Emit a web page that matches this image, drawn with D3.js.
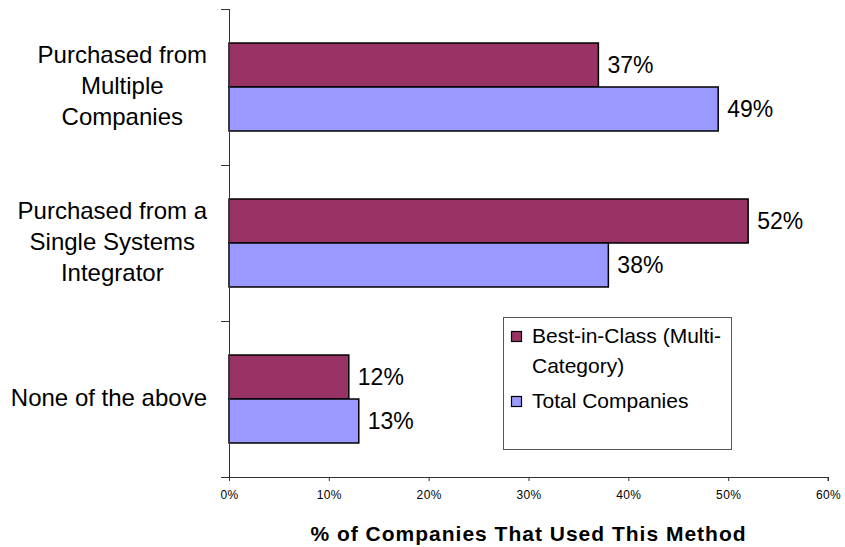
<!DOCTYPE html>
<html>
<head>
<meta charset="utf-8">
<script src="https://cdn.jsdelivr.net/npm/d3@7"></script>
<style>
  html, body { margin: 0; padding: 0; background: #fff; }
  svg { display: block; font-family: "Liberation Sans", Arial, sans-serif; }
</style>
</head>
<body>
<svg id="chart" width="845" height="547"></svg>
<script>
// Purchasing method categories, each split into its display lines
const categories = ["Multiple", "Single", "None"];
const categoryLines = [
  ["Purchased from", "Multiple", "Companies"],
  ["Purchased from a", "Single Systems", "Integrator"],
  ["None of the above"]
];
const seriesNames = ["Best-in-Class (Multi-Category)", "Total Companies"];
const legendLines = [["Best-in-Class (Multi-", "Category)"], ["Total Companies"]];
const bestInClass = [37, 52, 12];
const totalCompanies = [49, 38, 13];
const xTicks = [0, 10, 20, 30, 40, 50, 60];
const xTitle = "% of Companies That Used This Method";
const colors = ["#993366", "#9999FF"];

const svg = d3.select("#chart");
const plot = { left: 229, right: 828, top: 9, bottom: 477 };

const x = d3.scaleLinear().domain([0, 60]).range([plot.left, plot.right]);
const y = d3.scaleBand()
  .domain(categories)
  .range([plot.top, plot.bottom])
  .paddingInner(0.436)
  .paddingOuter(0.218);
const ySub = d3.scaleBand().domain([0, 1]).range([0, y.bandwidth()]);

const series = [bestInClass, totalCompanies];
const rows = [];
categories.forEach((c, i) => {
  series.forEach((s, k) => rows.push({ cat: c, k, v: s[i] }));
});

// bars
svg.append("g").selectAll("rect").data(rows).join("rect")
  .attr("x", x(0))
  .attr("y", d => y(d.cat) + ySub(d.k))
  .attr("width", d => x(d.v) - x(0))
  .attr("height", ySub.bandwidth())
  .attr("fill", d => colors[d.k])
  .attr("stroke", "#000")
  .attr("stroke-width", 1.5);

// value labels
svg.append("g").selectAll("text").data(rows).join("text")
  .attr("x", d => x(d.v) + 9)
  .attr("y", d => y(d.cat) + ySub(d.k) + ySub.bandwidth() / 2)
  .attr("dy", "0.33em")
  .attr("font-size", 23)
  .attr("fill", "#000")
  .text(d => d.v + "%");

// x axis
const xAxis = svg.append("g")
  .attr("transform", `translate(0,${plot.bottom})`)
  .call(d3.axisBottom(x).tickValues(xTicks).tickSize(4).tickPadding(9)
    .tickFormat(d => d + "%"));
xAxis.select(".domain").attr("stroke", "#333").attr("d", `M${plot.left - 8},0.5H${plot.right}V4`);
xAxis.selectAll(".tick line").attr("stroke", "#333");
xAxis.selectAll(".tick text")
  .attr("font-family", "Liberation Sans, Arial, sans-serif")
  .attr("font-size", 12).attr("letter-spacing", 0.4).attr("fill", "#000");

// y axis: line with ticks at the category boundaries
const yAxis = svg.append("g");
yAxis.append("line")
  .attr("x1", plot.left + 0.5).attr("x2", plot.left + 0.5)
  .attr("y1", plot.top).attr("y2", plot.bottom)
  .attr("stroke", "#333");
const boundaries = categories.map(c => y(c) - y.step() * y.paddingOuter()).concat([plot.bottom]);
yAxis.selectAll("line.tick").data(boundaries).join("line")
  .attr("class", "tick")
  .attr("x1", plot.left - 8).attr("x2", plot.left)
  .attr("y1", d => Math.round(d) + 0.5).attr("y2", d => Math.round(d) + 0.5)
  .attr("stroke", "#333");

// category labels: block right-aligned, lines centred within the block
const catG = svg.append("g");
categoryLines.forEach((lines, i) => {
  const cy = y(categories[i]) + y.bandwidth() / 2;
  const g = catG.append("g");
  const texts = g.selectAll("text").data(lines).join("text")
    .attr("font-size", 24)
    .attr("fill", "#000")
    .attr("text-anchor", "middle")
    .attr("y", (d, j) => cy + 7 + (j - (lines.length - 1) / 2) * 31)
    .text(d => d);
  const maxW = d3.max(texts.nodes(), n => n.getComputedTextLength());
  texts.attr("x", 207 - maxW / 2);
});

// axis title
svg.append("text")
  .attr("x", (plot.left + plot.right) / 2)
  .attr("y", 541)
  .attr("text-anchor", "middle")
  .attr("font-size", 21)
  .attr("font-weight", "bold")
  .attr("letter-spacing", 1.0)
  .attr("fill", "#000")
  .text(xTitle);

// legend
const legend = svg.append("g");
legend.append("rect")
  .attr("x", 503.5).attr("y", 317.5).attr("width", 228).attr("height", 132)
  .attr("fill", "#fff").attr("stroke", "#555");
const legendRows = [{ k: 0, top: 343 }, { k: 1, top: 408 }];
legendRows.forEach(r => {
  legend.append("rect")
    .attr("x", 511.5).attr("y", r.top - 11.5).attr("width", 10).attr("height", 10)
    .attr("fill", colors[r.k]).attr("stroke", "#000").attr("stroke-width", 1.2)
    .append("title").text(seriesNames[r.k]);
  legendLines[r.k].forEach((line, j) => {
    legend.append("text")
      .attr("x", 532).attr("y", r.top + j * 30)
      .attr("font-size", 21).attr("fill", "#000")
      .text(line);
  });
});
</script>
</body>
</html>
